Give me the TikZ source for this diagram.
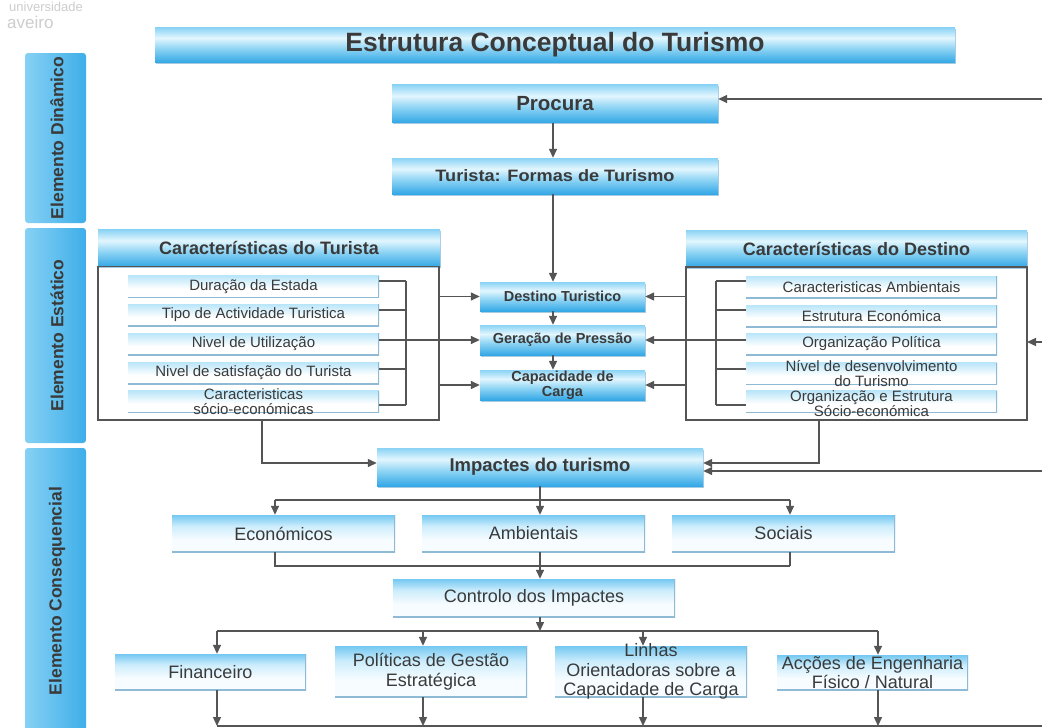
\documentclass[tikz,border=0pt]{standalone}
\usepackage{fontspec}
\usepackage{graphicx}
\setmainfont{Liberation Sans}
\usetikzlibrary{arrows.meta,shadows}
\definecolor{txt}{HTML}{3A3A3A}
\definecolor{lncol}{HTML}{555555}
\definecolor{btop}{HTML}{8AD3F5}
\definecolor{bmid}{HTML}{E2F6FE}
\definecolor{bmid2}{HTML}{8ED4F4}
\definecolor{bbot}{HTML}{34A8E6}
\definecolor{shd}{HTML}{2A7FB8}
\definecolor{ltop}{HTML}{74C8F1}
\definecolor{lmid}{HTML}{CDEDFC}
\definecolor{lbot}{HTML}{F6FCFF}
\definecolor{itop}{HTML}{B9E5F9}
\definecolor{edgecol}{HTML}{8FBAD6}
\definecolor{sl}{HTML}{86D1F4}
\definecolor{sm}{HTML}{C6EBFB}
\definecolor{sr}{HTML}{3EAEE9}
\definecolor{logo}{HTML}{CDCDCD}
\pgfdeclareverticalshading{glossy}{100bp}{color(0bp)=(bbot); color(25bp)=(bbot); color(45bp)=(bmid2); color(60bp)=(bmid); color(75bp)=(btop); color(100bp)=(btop)}
\pgfdeclareverticalshading{softsh}{100bp}{color(0bp)=(lbot); color(25bp)=(lbot); color(42bp)=(lbot); color(60bp)=(lmid); color(75bp)=(ltop); color(100bp)=(ltop)}
\pgfdeclareverticalshading{itemsh}{100bp}{color(0bp)=(white); color(25bp)=(white); color(45bp)=(white); color(75bp)=(itop); color(100bp)=(itop)}
\newcommand\myfs[2]{\fontsize{#1}{#2}\selectfont}
\begin{document}
\begin{tikzpicture}[x=1pt,y=-1pt,
  big/.style={shading=glossy, inner sep=0pt, text=txt, font=\bfseries, align=center,
    drop shadow={shadow xshift=1.2pt, shadow yshift=-1.6pt, fill=shd, opacity=0.4}},
  soft/.style={shading=softsh, inner sep=0pt, text=txt, align=center,
    path picture={\draw[edgecol, line width=2.4pt] (path picture bounding box.north east) -- (path picture bounding box.south east) -- (path picture bounding box.south west);}},
  item/.style={shading=itemsh, inner sep=0pt, text=txt, align=center,
    minimum width=251pt, minimum height=22pt, font=\myfs{15}{15},
    path picture={\draw[edgecol, line width=2pt] (path picture bounding box.north east) -- (path picture bounding box.south east) -- (path picture bounding box.south west);}},
  itemtext/.style={inner sep=0pt, text=txt, align=center, font=\myfs{15}{15}},
  side/.style={left color=sl, middle color=sm, right color=sr, rounded corners=3pt, inner sep=0pt, minimum width=61pt},
  sidetext/.style={rotate=90, text=txt, font=\myfs{17.5}{20}\bfseries, inner sep=0pt},
  outline/.style={draw=lncol, line width=1.3pt},
  ln/.style={draw=lncol, line width=1.4pt},
  arr/.style={ln, -{Triangle[length=9pt,width=8pt]}},
  cbox/.style={big, minimum width=165pt, font=\myfs{14.5}{15}\bfseries},
  lowbox/.style={soft, font=\myfs{18}{19.5}},
]
\useasboundingbox[fill=white] (0,0) rectangle (1042,728);

% logo
\node[anchor=base west, inner sep=0pt, text=logo, font=\myfs{13}{13}] (logo1) at (9,11.5) {universidade};
\node[anchor=base west, inner sep=0pt, text=logo, font=\myfs{17}{17}] (logo2) at (7,28.5) {aveiro};

% title
\node[big, minimum width=800pt, minimum height=35pt, font=\myfs{26.5}{28}\bfseries] (title) at (555,45) {Estrutura Conceptual do Turismo};

% side bars
\node[side, minimum height=170pt] (sdyn) at (55.5,138) {};
\node[sidetext] (tdyn) at (57,138) {Elemento Dinâmico};
\node[side, minimum height=215pt] (sest) at (55.5,335.5) {};
\node[sidetext] (test) at (57,335.5) {Elemento Estático};
\node[side, minimum height=292pt] (scon) at (55.5,594) {};
\node[sidetext] (tcon) at (57,591) {Elemento Consequencial};

% dynamic element
\node[big, minimum width=326pt, minimum height=38pt, font=\myfs{20.5}{22}\bfseries] (procura) at (555,103.5) {Procura};
\node[big, minimum width=326pt, minimum height=36pt, font=\myfs{16.5}{18}\bfseries] (turista) at (555,176) {\scalebox{1.1}[1]{Turista: Formas de Turismo}};

% tourist characteristics
\node[big, minimum width=342pt, minimum height=37pt, font=\myfs{18}{20}\bfseries] (hdrT) at (269,248) {Características do Turista};
\coordinate (oT1) at (98,266.5);
\coordinate (oT2) at (439,420);
\draw[outline] (oT1) rectangle (oT2);
\node[item] (iT1) at (253.5,286.5) {Duração da Estada};
\node[item] (iT2) at (253.5,315) {Tipo de Actividade Turistica};
\node[item] (iT3) at (253.5,344) {Nivel de Utilização};
\node[item] (iT4) at (253.5,373) {Nivel de satisfação do Turista};
\node[item] (iT5) at (253.5,401.5) {};
\node[itemtext] (iT5t) at (253.5,402) {Caracteristicas\\sócio-económicas};

% destination characteristics
\node[big, minimum width=341pt, minimum height=37pt, font=\myfs{18}{20}\bfseries] (hdrD) at (856.5,248.5) {Características do Destino};
\coordinate (oD1) at (686,267);
\coordinate (oD2) at (1027,420);
\draw[outline] (oD1) rectangle (oD2);
\node[item] (iD1) at (871.5,287) {Caracteristicas Ambientais};
\node[item] (iD2) at (871.5,316) {Estrutura Económica};
\node[item] (iD3) at (871.5,344) {Organização Política};
\node[item] (iD4) at (871.5,373.5) {};
\node[itemtext] (iD4t) at (871.5,374) {Nível de desenvolvimento\\do Turismo};
\node[item] (iD5) at (871.5,401.5) {};
\node[itemtext] (iD5t) at (871.5,403.5) {Organização e Estrutura\\Sócio-económica};

% centre boxes
\node[cbox, minimum height=29pt] (dest) at (562.5,296.5) {Destino Turistico};
\node[cbox, minimum height=30pt] (pres) at (562.5,340) {Geração de Pressão};
\node[cbox, minimum height=30pt] (carga) at (562.5,385) {Capacidade de\\Carga};

% buses inside the outline boxes
\coordinate (bT) at (406,0);
\coordinate (bD) at (716,0);
\foreach \n/\y in {1/281,2/310,4/369,5/405}{
  \draw[ln] (iT\n.east |- 0,\y) -- (bT |- 0,\y);
  \draw[ln] (iD\n.west |- 0,\y) -- (bD |- 0,\y);
}
\draw[ln] (bT |- 0,281) -- (bT |- 0,405);
\draw[ln] (bD |- 0,281) -- (bD |- 0,405);
\draw[arr] (iT3.east |- 0,340) -- (pres.west |- 0,340);
\draw[arr] (iD3.west |- 0,340) -- (pres.east |- 0,340);
\draw[arr] (oT2 |- dest.west) -- (dest.west);
\draw[arr] (oT2 |- carga.west) -- (carga.west);
\draw[arr] (oD1 |- dest.east) -- (dest.east);
\draw[arr] (oD1 |- carga.east) -- (carga.east);

% vertical flow
\draw[arr] (procura.south -| 553,0) -- (turista.north -| 553,0);
\draw[arr] (turista.south -| 553,0) -- (dest.north -| 553,0);
\draw[arr] (dest.south -| 553,0) -- (pres.north -| 553,0);
\draw[arr] (pres.south -| 553,0) -- (carga.north -| 553,0);

% impacts
\node[big, minimum width=326pt, minimum height=38pt, font=\myfs{18.5}{20}\bfseries] (imp) at (540,467) {Impactes do turismo};
\draw[arr] (262,420) |- (imp.west |- 0,463);
\draw[arr] (819,420) |- (imp.east |- 0,463);

% feedback lines from the right edge
\coordinate (fb1) at (1042,99);
\coordinate (fb2) at (1042,342);
\coordinate (fb3) at (1042,471);
\coordinate (fb4) at (1042,726);
\draw[arr] (fb1) -- (procura.east |- fb1);
\draw[arr] (fb2) -- (oD2 |- fb2);
\draw[arr] (fb3) -- (imp.east |- fb3);

% impact types
\node[lowbox, minimum width=223pt, minimum height=37pt] (eco) at (283.5,533.5) {Económicos};
\node[lowbox, minimum width=223pt, minimum height=37pt] (amb) at (533.5,533.5) {Ambientais};
\node[lowbox, minimum width=223pt, minimum height=37pt] (soc) at (783.5,533.5) {Sociais};
\draw[ln] (275,500) -- (790,500);
\draw[arr] (imp.south -| 540,0) -- (amb.north -| 540,0);
\draw[arr] (275,500) -- (eco.north -| 275,0);
\draw[arr] (790,500) -- (soc.north -| 790,0);
\draw[ln] (eco.south -| 275,0) |- (790,566);
\draw[ln] (soc.south -| 790,0) -- (790,566);
\draw[ln] (amb.south -| 540,0) -- (540,566);

% control
\node[lowbox, minimum width=282pt, minimum height=38pt] (ctrl) at (534,598) {Controlo dos Impactes};
\draw[arr] (540,566) -- (ctrl.north -| 540,0);
\coordinate (bus2) at (540,631);
\draw[arr] (ctrl.south -| 540,0) -- (bus2);
\draw[ln] (217,631) -- (878,631);

% measures
\node[lowbox, minimum width=191pt, minimum height=36pt] (fin) at (210.5,672) {Financeiro};
\node[lowbox, minimum width=192pt, minimum height=51pt] (pol) at (431,671.5) {Políticas de Gestão\\Estratégica};
\node[lowbox, minimum width=192pt, minimum height=51pt] (lin) at (651,671.5) {};
\node[inner sep=0pt, text=txt, align=center, font=\myfs{18}{19.5}] (lint) at (651,671.5) {Linhas\\Orientadoras sobre a\\Capacidade de Carga};
\node[lowbox, minimum width=191pt, minimum height=35pt] (acc) at (872.5,672.5) {Acções de Engenharia\\Físico / Natural};
\draw[arr] (217,631) -- (fin.north -| 217,0);
\draw[arr] (423,631) -- (pol.north -| 423,0);
\draw[arr] (643,631) -- (lin.north -| 643,0);
\draw[arr] (878,631) -- (acc.north -| 878,0);

% bottom line
\draw[arr] (fin.south -| 217,0) -- (217,726);
\draw[arr] (pol.south -| 423,0) -- (423,726);
\draw[arr] (lin.south -| 643,0) -- (643,726);
\draw[arr] (acc.south -| 878,0) -- (878,726);
\draw[ln] (217,726) -- (fb4);
\end{tikzpicture}
\end{document}
